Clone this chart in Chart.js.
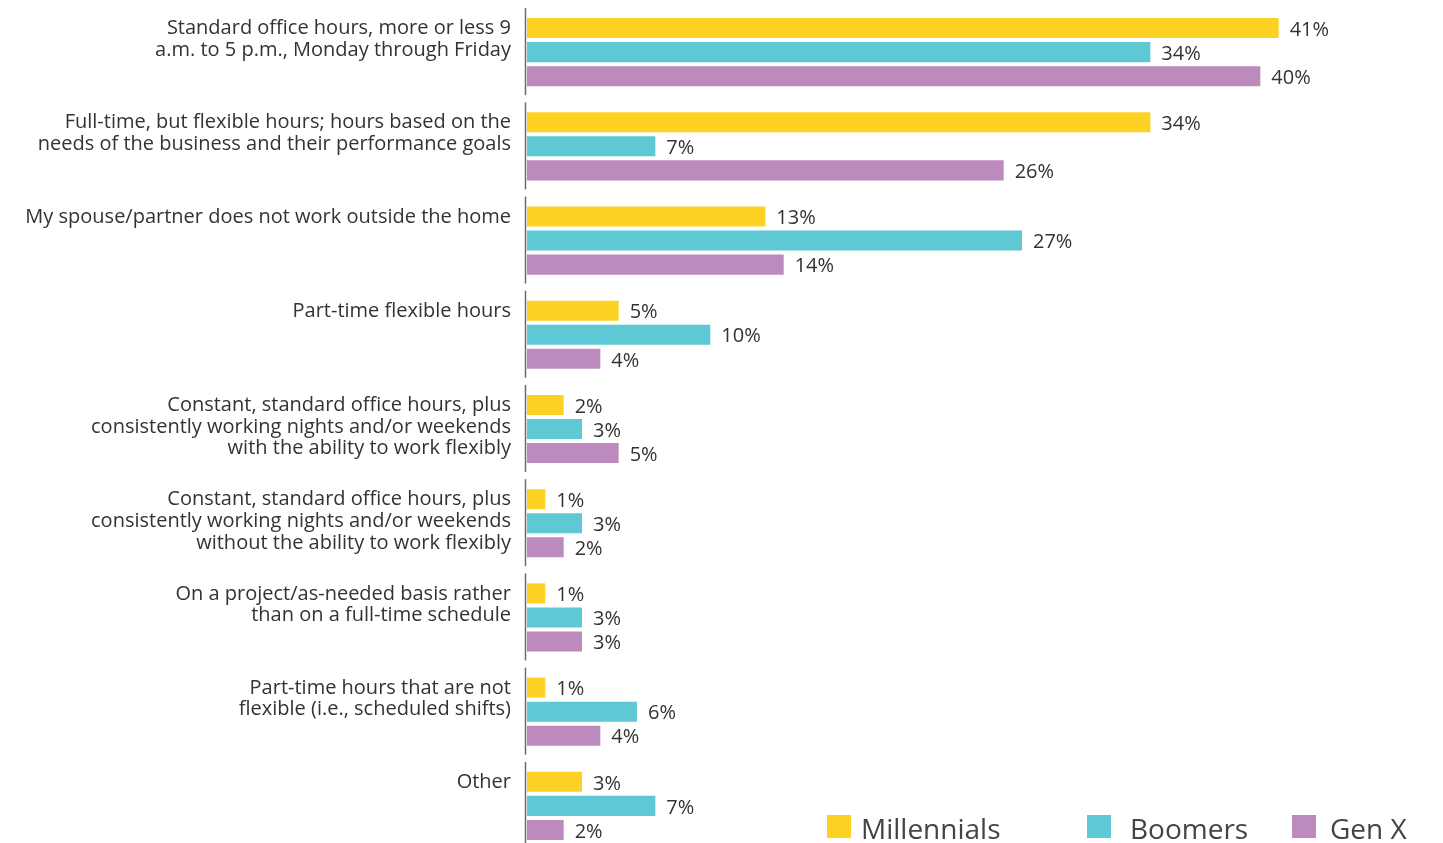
<!DOCTYPE html>
<html lang="en">
<head>
  <meta charset="UTF-8">
  <title>Work schedule of spouse/partner by generation</title>
  <script src="https://cdn.jsdelivr.net/npm/chart.js"></script>
  <style>
    body { margin: 0; overflow: hidden; background: #fff; }
    #wrap { position: relative; width: 1443px; height: 858px; }
  </style>
</head>
<body>
  <div id="wrap"><canvas id="scheduleChart"></canvas></div>

  <script>
    const categories = [
      ['Standard office hours, more or less 9', 'a.m. to 5 p.m., Monday through Friday'],
      ['Full-time, but flexible hours; hours based on the', 'needs of the business and their performance goals'],
      ['My spouse/partner does not work outside the home'],
      ['Part-time flexible hours'],
      ['Constant, standard office hours, plus', 'consistently working nights and/or weekends', 'with the ability to work flexibly'],
      ['Constant, standard office hours, plus', 'consistently working nights and/or weekends', 'without the ability to work flexibly'],
      ['On a project/as-needed basis rather', 'than on a full-time schedule'],
      ['Part-time hours that are not', 'flexible (i.e., scheduled shifts)'],
      ['Other']
    ];

    const millennials = [41, 34, 13, 5, 2, 1, 1, 1, 3];
    const boomers     = [34, 7, 27, 10, 3, 3, 3, 6, 7];
    const genX        = [40, 26, 14, 4, 5, 2, 3, 4, 2];

    const seriesNames  = ['Millennials', 'Boomers', 'Gen X'];
    const seriesColors = ['#fed224', '#5ec8d4', '#bd8abd'];

    const FONT = '"Open Sans", sans-serif';

    // pad every label to 3 lines so the first line sits on the first bar
    const paddedLabels = categories.map(lines => {
      const out = lines.slice();
      while (out.length < 3) out.push(' ');
      return out;
    });

    // short axis segment per category group
    const axisSegments = {
      id: 'axisSegments',
      beforeDatasetsDraw(chart) {
        const { ctx, chartArea, scales } = chart;
        const y = scales.y;
        ctx.save();
        ctx.strokeStyle = '#6b6b6b';
        ctx.lineWidth = 1.5;
        categories.forEach((c, i) => {
          const cy = y.getPixelForValue(i);
          ctx.beginPath();
          ctx.moveTo(chartArea.left - 1.5, cy - 44);
          ctx.lineTo(chartArea.left - 1.5, cy + 43);
          ctx.stroke();
        });
        ctx.restore();
      }
    };

    // percent labels at bar ends
    const valueLabels = {
      id: 'valueLabels',
      afterDatasetsDraw(chart) {
        const { ctx } = chart;
        ctx.save();
        ctx.font = '20px ' + FONT;
        ctx.fillStyle = '#333';
        ctx.textBaseline = 'middle';
        ctx.textAlign = 'left';
        chart.data.datasets.forEach((ds, di) => {
          chart.getDatasetMeta(di).data.forEach((bar, i) => {
            ctx.fillText(ds.data[i] + '%', bar.x + 11, bar.y + 2);
          });
        });
        ctx.restore();
      }
    };

    // legend in the bottom right corner
    const legendBoxX  = [827, 1087, 1292];
    const legendTextX = [861, 1130, 1330];
    const cornerLegend = {
      id: 'cornerLegend',
      afterDraw(chart) {
        const { ctx } = chart;
        ctx.save();
        ctx.font = '28px ' + FONT;
        ctx.textBaseline = 'alphabetic';
        chart.data.datasets.forEach((ds, i) => {
          ctx.fillStyle = ds.backgroundColor;
          ctx.fillRect(legendBoxX[i], 815, 24, 23);
          ctx.fillStyle = '#444';
          ctx.fillText(ds.label, legendTextX[i], 839);
        });
        ctx.restore();
      }
    };

    const ctx = document.getElementById('scheduleChart').getContext('2d');
    new Chart(ctx, {
      type: 'bar',
      data: {
        labels: paddedLabels,
        datasets: [millennials, boomers, genX].map((d, i) => ({
          label: seriesNames[i],
          data: d,
          backgroundColor: seriesColors[i],
          categoryPercentage: 0.766,
          barPercentage: 0.833
        }))
      },
      options: {
        indexAxis: 'y',
        responsive: true,
        maintainAspectRatio: false,
        animation: false,
        layout: { padding: { top: 5, bottom: 5, left: 0, right: 91 } },
        plugins: {
          legend: { display: false },
          tooltip: { enabled: false }
        },
        scales: {
          x: {
            display: false,
            min: 0,
            max: 45
          },
          y: {
            grid: { display: false },
            border: { display: false },
            afterFit(scale) {
              scale.width = 527;
              scale.paddingTop = 0;
              scale.paddingBottom = 0;
            },
            ticks: {
              padding: 8,
              color: '#333',
              font: { family: FONT, size: 20, lineHeight: 1.08 },
              labelOffset: -2
            }
          }
        }
      },
      plugins: [axisSegments, valueLabels, cornerLegend]
    });
  </script>
</body>
</html>
